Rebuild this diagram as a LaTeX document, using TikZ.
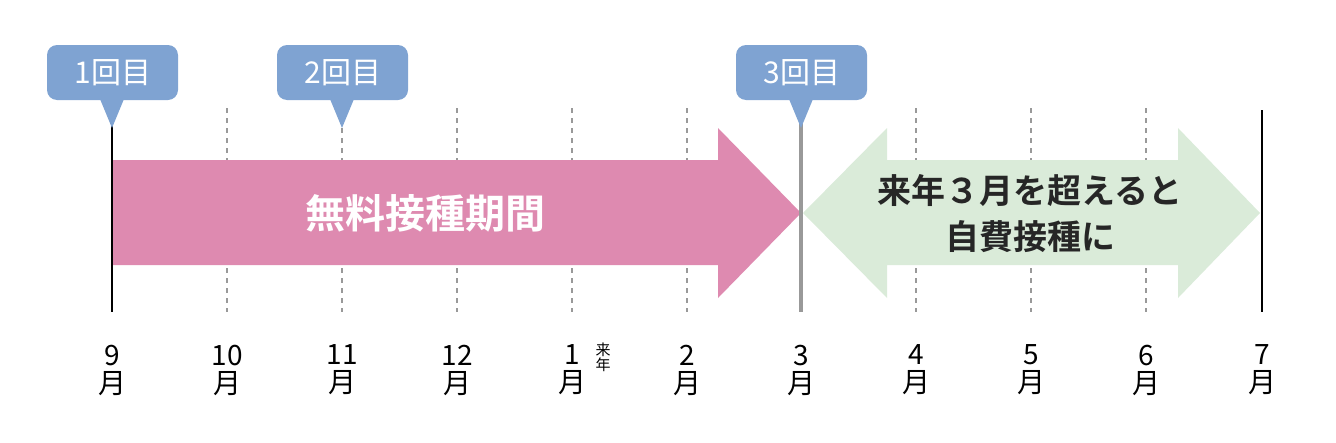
\documentclass[tikz,border=0pt]{standalone}
\usepackage{fontspec}
\setmainfont{Noto Sans CJK JP}
\newfontfamily\jpb{Noto Sans CJK JP}[BoldFont={* Bold}]
\definecolor{pinkA}{HTML}{DE8AB0}
\definecolor{greenA}{HTML}{DAEBD9}
\definecolor{blueA}{HTML}{7FA3D2}
\definecolor{grayA}{HTML}{999999}
\begin{document}
\begin{tikzpicture}[x=1pt,y=-1pt,
  gridline/.style={draw=grayA,line width=2pt,dash pattern=on 5pt off 5pt},
  mlabel/.style={font=\fontsize{28}{30}\selectfont,align=center,inner sep=0pt},
  callout/.style={fill=blueA,rounded corners=10pt},
  ctext/.style={text=white,font=\fontsize{30}{32}\selectfont}]
\useasboundingbox (0,0) rectangle (1336,442);
% dashed lines
\foreach \x in {227,342,457,572,687,916,1031,1146}
  \draw[gridline] (\x,108) -- (\x,312);
% arrows
\fill[pinkA] (112,160) -- (718,160) -- (718,128) -- (801,213) -- (718,298) -- (718,265) -- (112,265) -- cycle;
\fill[greenA] (803,213) -- (887,128) -- (887,160) -- (1178,160) -- (1178,128) -- (1260,213) -- (1178,298) -- (1178,265) -- (887,265) -- (887,298) -- cycle;
% solid lines
\draw[line width=2pt] (112,110) -- (112,312);
\draw[line width=2pt] (1262,110) -- (1262,312);
\draw[grayA,line width=4pt] (801,110) -- (801,312);
% callouts
\foreach \c/\t/\n in {112/1/a,342/2/b,801/3/c}{
  \fill[callout] (\c-65,45) rectangle (\c+66,100);
  \fill[blueA] (\c-12,99) -- (\c+12,99) -- (\c,128) -- cycle;
  \node[ctext] (call\n) at (\c+1,73) {\t 回目};
}
% texts
\node[text=white,font=\jpb\bfseries\fontsize{40}{44}\selectfont] (free) at (425,213) {無料接種期間};
\node[text=black!85,font=\jpb\bfseries\fontsize{34}{46}\selectfont,align=center] (self) at (1030,214) {来年３月を超えると\\自費接種に};
% month labels
\foreach \x/\m [count=\i] in {112/9,227/10,342/11,457/12,572/1,687/2,801/3,916/4,1031/5,1146/6,1262/7}
  \node[mlabel] (m\i) at (\x,370) {\m\\[-2pt]月};
\node[font=\fontsize{15}{15}\selectfont,align=center,inner sep=0pt] (rainen) at (603,357) {来\\年};
\end{tikzpicture}
\end{document}
